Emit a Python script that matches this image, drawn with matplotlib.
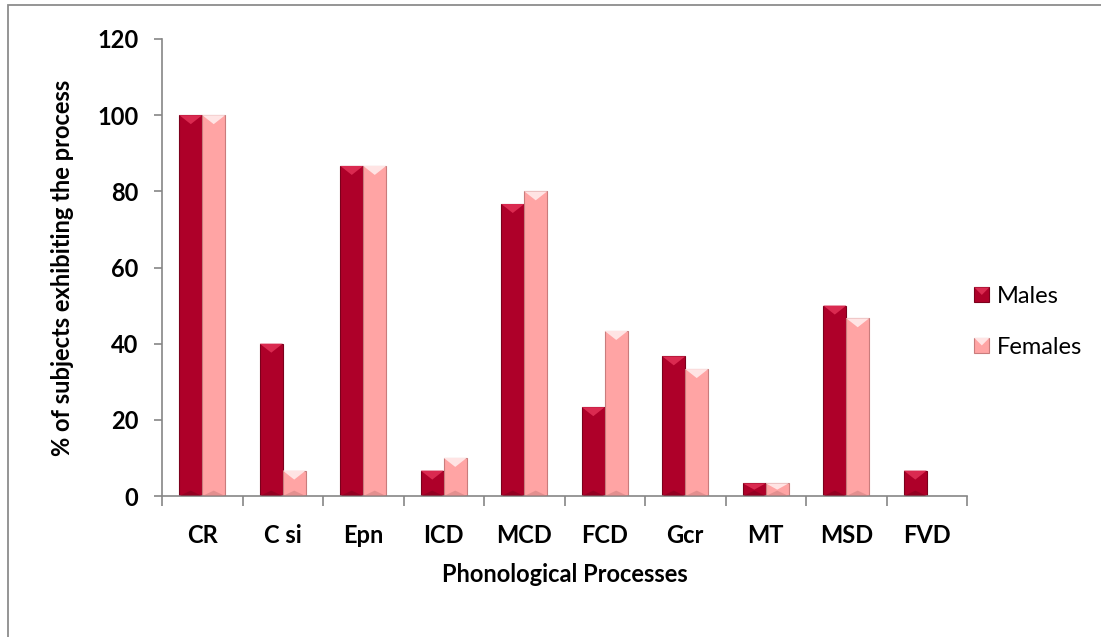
import matplotlib
matplotlib.use("Agg")
import matplotlib.pyplot as plt
from matplotlib.patches import Rectangle, Polygon
from matplotlib.legend_handler import HandlerBase
import numpy as np

categories = ["CR", "C si", "Epn", "ICD", "MCD", "FCD", "Gcr", "MT", "MSD", "FVD"]
males = [100, 40, 86.67, 6.67, 76.67, 23.33, 36.67, 3.33, 50, 6.67]
females = [100, 6.67, 86.67, 10, 80, 43.33, 33.33, 3.33, 46.67, 0]
series_names = ["Males", "Females"]

male_col = "#AE0029"
male_dark = "#7C001C"
male_light = "#DA2A50"
fem_col = "#FFA4A4"
fem_dark = "#C97C7C"
fem_light = "#FFE4E4"
axis_col = "#868686"

plt.rcParams["font.family"] = ["Lato", "DejaVu Sans"]
FS = 17

fig = plt.figure(figsize=(11.01, 6.37), dpi=100)
ax = fig.add_axes([162 / 1101, 1 - 496 / 637, (967 - 162) / 1101, (496 - 39) / 637])

x = np.arange(len(categories))
w = 0.285
bm = ax.bar(x - w / 2, males, w, color=male_col, edgecolor=male_dark, linewidth=0.8, zorder=2)
bf = ax.bar(x + w / 2, females, w, color=fem_col, edgecolor=fem_dark, linewidth=0.8, zorder=2)

ax.set_xlim(-0.5, len(categories) - 0.5)
ax.set_ylim(0, 120)
ax.set_yticks(np.arange(0, 121, 20))
ax.set_xticks(x)
ax.set_xticklabels(categories)
ax.set_xticks(np.arange(-0.5, len(categories), 1.0), minor=True)
ax.tick_params(axis="x", which="major", length=0, pad=20)
ax.tick_params(axis="x", which="minor", length=7, color=axis_col, width=1.2)
ax.tick_params(axis="y", length=6, color=axis_col, width=1.2, pad=11)
for lab in ax.get_xticklabels() + ax.get_yticklabels():
    lab.set_fontsize(FS)
    lab.set_fontweight("bold")
for s in ["top", "right"]:
    ax.spines[s].set_visible(False)
for s in ["left", "bottom"]:
    ax.spines[s].set_color(axis_col)
    ax.spines[s].set_linewidth(1.2)

ax.set_xlabel("Phonological Processes", fontsize=FS, fontweight="bold", labelpad=12)
ax.set_ylabel("% of subjects exhibiting the process", fontsize=FS, fontweight="bold", labelpad=17)

# bevelled look: a light chevron on the top of each bar and a soft one at the base
inv = ax.transData.inverted()
px_y = abs(inv.transform((0, 0))[1] - inv.transform((0, 1))[1])
depth = 9 * px_y


def bevel(bars, light, base):
    for b in bars:
        h = b.get_height()
        if h <= 0:
            continue
        x0 = b.get_x()
        x1 = x0 + b.get_width()
        xc = (x0 + x1) / 2
        d = min(depth, h / 2)
        ax.add_patch(Polygon([(x0, h), (x1, h), (xc, h - d)], closed=True,
                             facecolor=light, edgecolor="none", zorder=3))
        ax.add_patch(Polygon([(x0, 0), (x1, 0), (xc, min(depth * 0.6, h / 2))], closed=True,
                             facecolor=base, edgecolor="none", alpha=0.5, zorder=3))


bevel(bm, male_light, male_dark)
bevel(bf, fem_light, fem_dark)


class BevelSquare(HandlerBase):
    def __init__(self, face, edge, light):
        super().__init__()
        self.face, self.edge, self.light = face, edge, light

    def create_artists(self, legend, orig_handle, xdescent, ydescent, width, height, fontsize, trans):
        s = height * 1.0
        x0 = width - s
        r = Rectangle((x0, -ydescent), s, s, facecolor=self.face, edgecolor=self.edge,
                      linewidth=0.8, transform=trans)
        t = Polygon([(x0, s - ydescent), (x0 + s, s - ydescent), (x0 + s / 2, s / 2 - ydescent)],
                    closed=True, facecolor=self.light, edgecolor="none", transform=trans)
        return [r, t]


h1 = Rectangle((0, 0), 1, 1)
h2 = Rectangle((0, 0), 1, 1)
leg = fig.legend([h1, h2], series_names, loc="center left",
                 bbox_to_anchor=(948 / 1101, 1 - 322 / 637), frameon=False,
                 fontsize=FS, handlelength=0.85, handleheight=0.6, handletextpad=0.3,
                 labelspacing=1.25,
                 handler_map={h1: BevelSquare(male_col, male_dark, male_light),
                              h2: BevelSquare(fem_col, fem_dark, fem_light)})

# chart frame
fig.patches.append(Rectangle((8 / 1101, -0.05), 1.1, 1 - 5 / 637 + 0.05, transform=fig.transFigure,
                             fill=False, edgecolor="#8C8C8C", linewidth=1.3))

fig.savefig("out.png", dpi=100)
